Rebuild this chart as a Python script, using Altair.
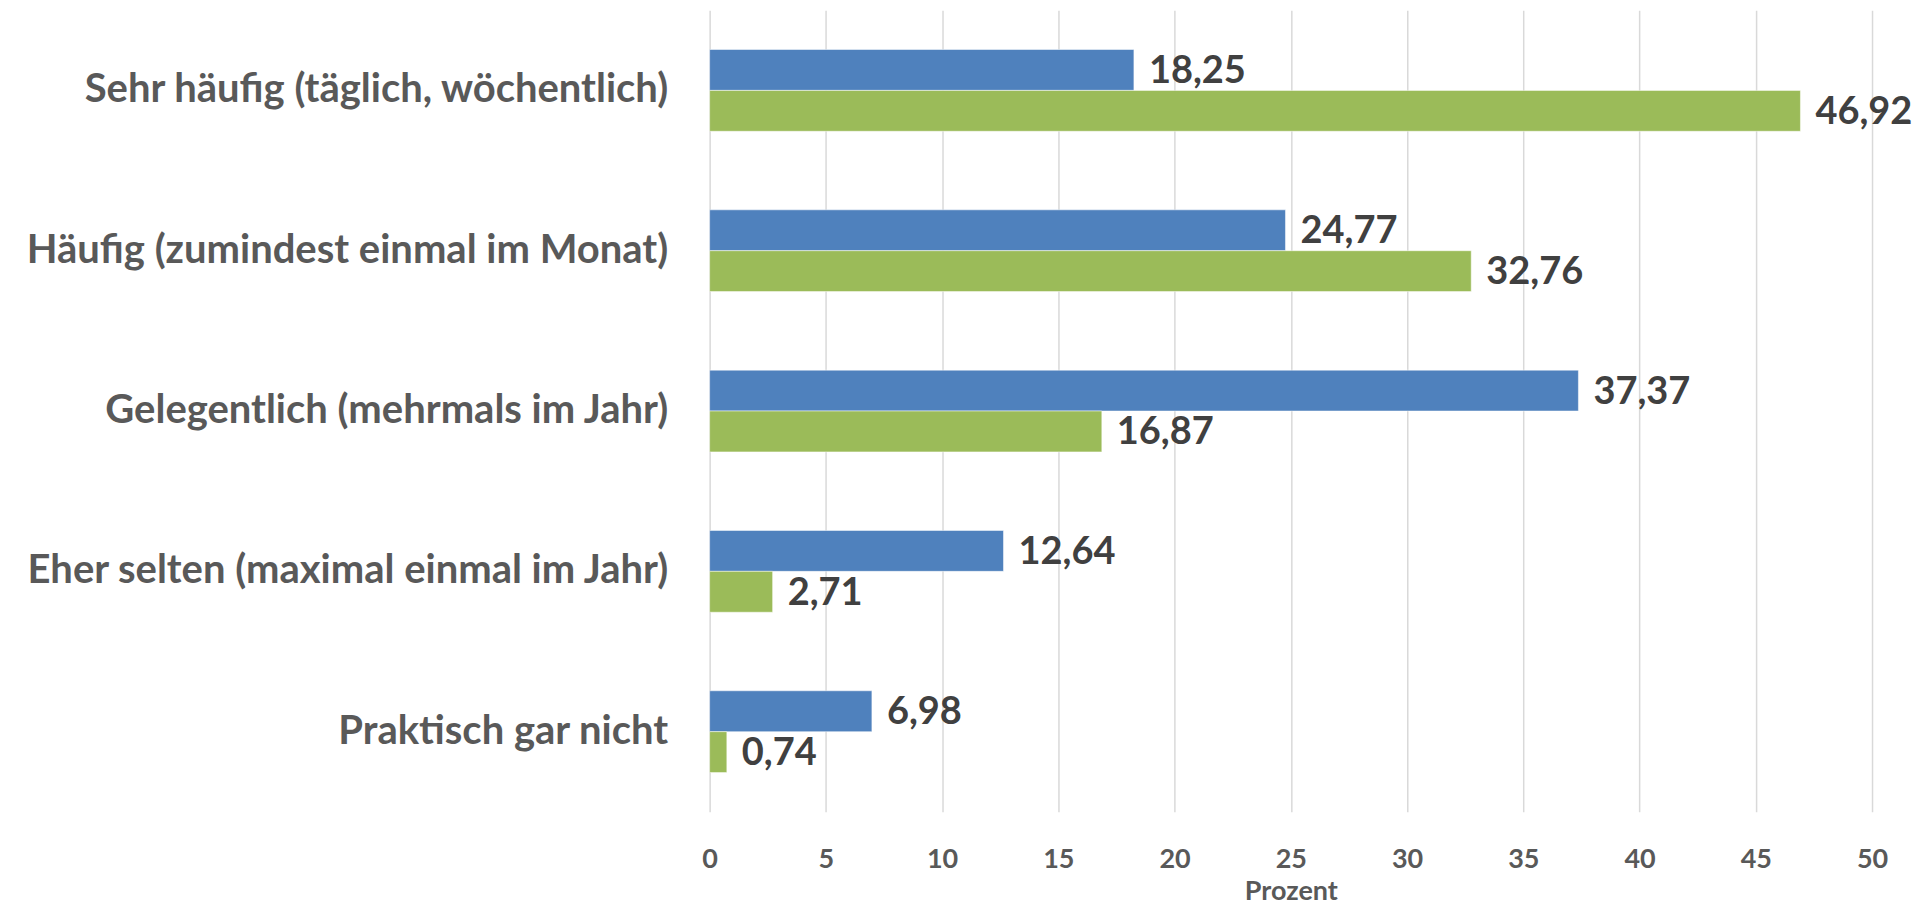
import altair as alt
import pandas as pd

categories = [
    "Sehr häufig (täglich, wöchentlich)",
    "Häufig (zumindest einmal im Monat)",
    "Gelegentlich (mehrmals im Jahr)",
    "Eher selten (maximal einmal im Jahr)",
    "Praktisch gar nicht",
]
series_names = ["Serie 1", "Serie 2"]
series1_values = [18.25, 24.77, 37.37, 12.64, 6.98]
series2_values = [46.92, 32.76, 16.87, 2.71, 0.74]
x_ticks = [0, 5, 10, 15, 20, 25, 30, 35, 40, 45, 50]
colors = ["#4F81BD", "#9BBB59"]

rows = []
for i, c in enumerate(categories):
    rows.append({"Kategorie": c, "Serie": series_names[0], "Wert": series1_values[i]})
    rows.append({"Kategorie": c, "Serie": series_names[1], "Wert": series2_values[i]})
df = pd.DataFrame(rows)

FONT = "Lato"

y_enc = alt.Y(
    "Kategorie:N",
    sort=categories,
    scale=alt.Scale(paddingInner=0.49, paddingOuter=0.245),
    axis=alt.Axis(
        title=None,
        labelFontSize=40,
        labelFont=FONT,
        labelFontWeight="bold",
        labelColor="#595959",
        labelPadding=42,
        labelLimit=1000,
        ticks=False,
        domain=False,
        grid=False,
    ),
)
x_enc = alt.X(
    "Wert:Q",
    scale=alt.Scale(domain=[0, 50], nice=False),
    axis=alt.Axis(
        values=x_ticks,
        title="Prozent",
        titleFont=FONT,
        titleFontSize=27,
        titleFontWeight="bold",
        titleColor="#595959",
        titlePadding=6,
        labelFont=FONT,
        labelFontSize=27,
        labelFontWeight="bold",
        labelColor="#595959",
        labelPadding=35,
        labelFlush=False,
        ticks=False,
        domain=False,
        grid=True,
        gridColor="#D9D9D9",
        gridWidth=1.5,
    ),
)
yoff = alt.YOffset("Serie:N", sort=series_names, scale=alt.Scale(paddingInner=0, paddingOuter=0))

bars = alt.Chart(df).mark_bar(stroke="white", strokeWidth=1, strokeOpacity=0.5).encode(
    y=y_enc,
    x=x_enc,
    yOffset=yoff,
    color=alt.Color("Serie:N", scale=alt.Scale(domain=series_names, range=colors), legend=None),
)

labels = alt.Chart(df).transform_calculate(
    txt="replace(format(datum.Wert, '.2f'), '.', ',')"
).mark_text(
    align="left",
    baseline="middle",
    dx=15,
    dy=2,
    font=FONT,
    fontSize=38,
    fontWeight="bold",
    color="#404040",
).encode(
    y=y_enc,
    x=x_enc,
    yOffset=yoff,
    text="txt:N",
)

chart = (
    alt.layer(bars, labels)
    .properties(
        width=1163,
        height=802,
        background="white",
        autosize=alt.AutoSizeParams(type="none"),
        padding={"left": 702, "top": 2, "right": 50, "bottom": 97},
    )
    .configure_view(strokeWidth=0, stroke=None)
    .configure_axis(domain=False, ticks=False)
    .configure_axisY(grid=False)
)

chart.save("out.html", embed_options={"renderer": "svg", "actions": False})
